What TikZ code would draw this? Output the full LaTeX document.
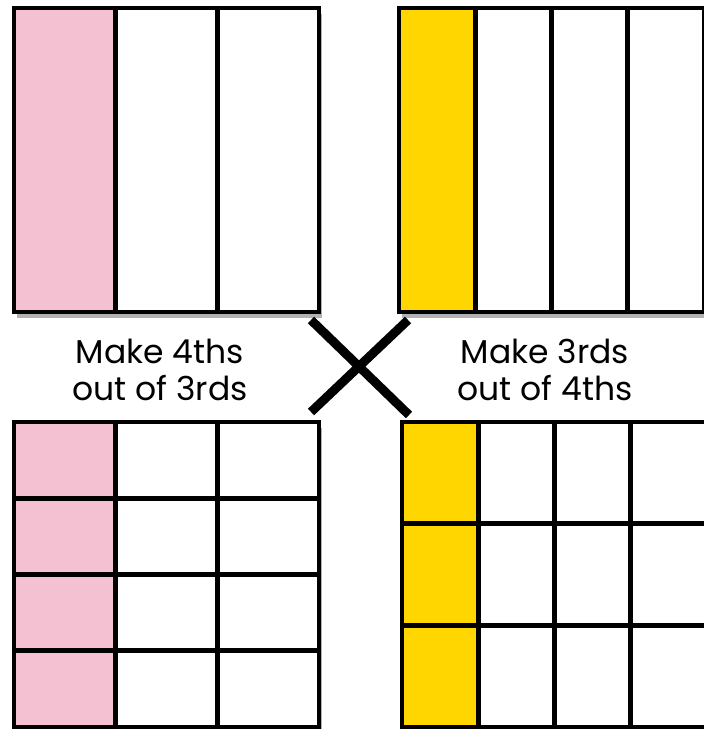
\documentclass[tikz,border=0pt]{standalone}
\usepackage{fontspec}
\setmainfont{Poppins}
\usetikzlibrary{shadows}
\definecolor{ink}{RGB}{0,0,0}
\definecolor{thirdpink}{RGB}{243,193,210}
\definecolor{fourthgold}{RGB}{255,214,0}
\tikzset{
  panel/.style   = {draw=ink, line width=4pt, fill=white,
                    drop shadow={shadow xshift=3pt, shadow yshift=-6pt, opacity=0.3, fill=black}},
  divider/.style = {draw=ink, line width=5pt},
  pinkpart/.style = {fill=thirdpink},
  goldpart/.style = {fill=fourthgold},
  cross/.style   = {draw=ink, line width=9pt},
  caption/.style = {font=\fontsize{33}{37}\selectfont, text=ink, align=center},
}

\begin{document}
\begin{tikzpicture}[x=1pt, y=1pt]
\useasboundingbox (0,0) rectangle (704,-729);

% ======================================================= top left : thirds
\path[panel] (14,-8) rectangle (319,-312);
\fill[pinkpart] (14,-8) rectangle (115,-312);
\foreach \c in {1,2}{\draw[divider] (14+101.67*\c,-8) -- (14+101.67*\c,-312);}
\draw[draw=ink, line width=4pt] (14,-8) rectangle (319,-312);

% ======================================================= top right : fourths
\path[panel] (399,-8) rectangle (704,-312);
\fill[goldpart] (399,-8) rectangle (475,-312);
\foreach \c in {1,2,3}{\draw[divider] (399+76.25*\c,-8) -- (399+76.25*\c,-312);}
\draw[draw=ink, line width=4pt] (399,-8) rectangle (704,-312);

% ======================================================= captions and cross
\node[caption] (makefourths) at (160,-370) {Make 4ths\\out of 3rds};
\node[caption] (makethirds)  at (545,-370) {Make 3rds\\out of 4ths};

\draw[cross] (311,-320) -- (409,-415);
\draw[cross] (408,-320) -- (311,-412);

% ======================================================= bottom left : thirds cut in 4
\path[panel] (14,-422) rectangle (319,-727);
\fill[pinkpart] (14,-422) rectangle (115,-727);
\foreach \c in {1,2}{\draw[divider] (14+101.67*\c,-422) -- (14+101.67*\c,-727);}
\foreach \r in {1,2,3}{\draw[divider] (14,-422-76.25*\r) -- (319,-422-76.25*\r);}
\draw[draw=ink, line width=4pt] (14,-422) rectangle (319,-727);

% ======================================================= bottom right : fourths cut in 3
\path[panel] (402,-422) rectangle (707,-727);
\fill[goldpart] (402,-422) rectangle (478,-727);
\foreach \c in {1,2,3}{\draw[divider] (402+76.25*\c,-422) -- (402+76.25*\c,-727);}
\foreach \r in {1,2}{\draw[divider] (402,-422-101.67*\r) -- (707,-422-101.67*\r);}
\draw[draw=ink, line width=4pt] (402,-422) rectangle (707,-727);

\end{tikzpicture}
\end{document}
